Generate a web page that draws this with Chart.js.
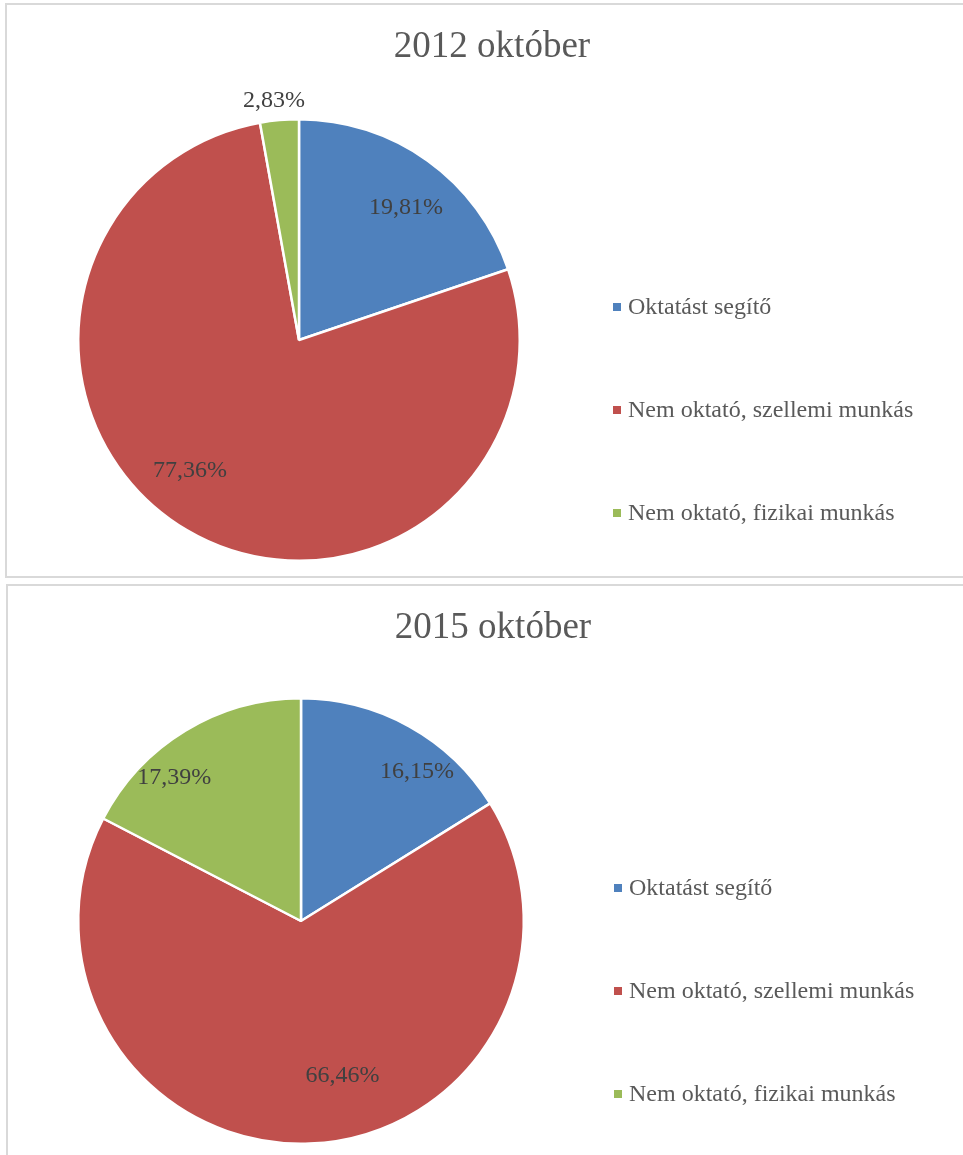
<!DOCTYPE html>
<html>
<head>
<meta charset="utf-8">
<script src="https://cdn.jsdelivr.net/npm/chart.js@4/dist/chart.umd.min.js"></script>
<style>
  html, body { margin: 0; padding: 0; background: #fff; overflow: hidden; }
  .panel { position: absolute; border: 2px solid #d9d9d9; box-sizing: border-box; background: #fff; }
  #p1 { left: 5px; top: 3px; width: 1000px; height: 575px; }
  #p2 { left: 6px; top: 584px; width: 1000px; height: 600px; }
  canvas { position: absolute; left: 0; top: 0; }
</style>
</head>
<body>
<div class="panel" id="p1"><canvas id="c1" width="957" height="573"></canvas></div>
<div class="panel" id="p2"><canvas id="c2" width="956" height="570"></canvas></div>
<script>
const categories = ['Oktatást segítő', 'Nem oktató, szellemi munkás', 'Nem oktató, fizikai munkás'];
const titles = ['2012 október', '2015 október'];
const values2012 = [19.81, 77.36, 2.83];
const values2015 = [16.15, 66.46, 17.39];

const colors = ['#4f81bd', '#c0504d', '#9bbb59'];
const FONT = '"Liberation Serif", "Times New Roman", serif';

// label placement like Excel's best fit: [angle nudge in degrees, radius fraction]
const labelPlace2012 = [[3.3, 0.77], [9.3, 0.77], [-0.9, 1.09]];
const labelPlace2015 = [[8.7, 0.85], [-12.8, 0.72], [-10.1, 0.86]];

const fmt = v => v.toFixed(2).replace('.', ',') + '%';

const decor = {
  id: 'decor',
  afterDatasetsDraw(chart, args, opts) {
    const ctx = chart.ctx;
    ctx.save();
    // title
    ctx.fillStyle = '#595959';
    ctx.font = '37px ' + FONT;
    ctx.textAlign = 'center';
    ctx.textBaseline = 'middle';
    ctx.fillText(opts.title, 485, 42);

    // data labels
    const meta = chart.getDatasetMeta(0);
    const data = chart.data.datasets[0].data;
    ctx.font = '24px ' + FONT;
    ctx.fillStyle = '#404040';
    meta.data.forEach((arc, i) => {
      const p = arc.getProps(['x', 'y', 'startAngle', 'endAngle', 'outerRadius'], true);
      const place = opts.place[i];
      const a = (p.startAngle + p.endAngle) / 2 + place[0] * Math.PI / 180;
      const r = p.outerRadius * place[1];
      ctx.fillText(fmt(data[i]), p.x + Math.cos(a) * r, p.y + Math.sin(a) * r);
    });

    // legend
    ctx.textAlign = 'left';
    ctx.font = '24px ' + FONT;
    chart.data.labels.forEach((lab, i) => {
      const y = 302 + i * 103;
      ctx.fillStyle = colors[i];
      ctx.fillRect(606, y - 4, 8, 8);
      ctx.fillStyle = '#595959';
      ctx.fillText(lab, 621, y + 1);
    });
    ctx.restore();
  }
};

function makePie(id, values, title, place, pad) {
  return new Chart(document.getElementById(id), {
    type: 'pie',
    data: {
      labels: categories,
      datasets: [{
        data: values,
        backgroundColor: colors,
        borderColor: '#ffffff',
        borderWidth: 2.5
      }]
    },
    options: {
      responsive: false,
      animation: false,
      layout: { padding: pad },
      plugins: {
        legend: { display: false },
        tooltip: { enabled: false },
        decor: { title: title, place: place }
      }
    },
    plugins: [decor]
  });
}

makePie('c1', values2012, titles[0], labelPlace2012, { left: 70, top: 113, right: 443, bottom: 16 });
makePie('c2', values2015, titles[1], labelPlace2015, { left: 69, top: 111, right: 439, bottom: 11 });
</script>
</body>
</html>
